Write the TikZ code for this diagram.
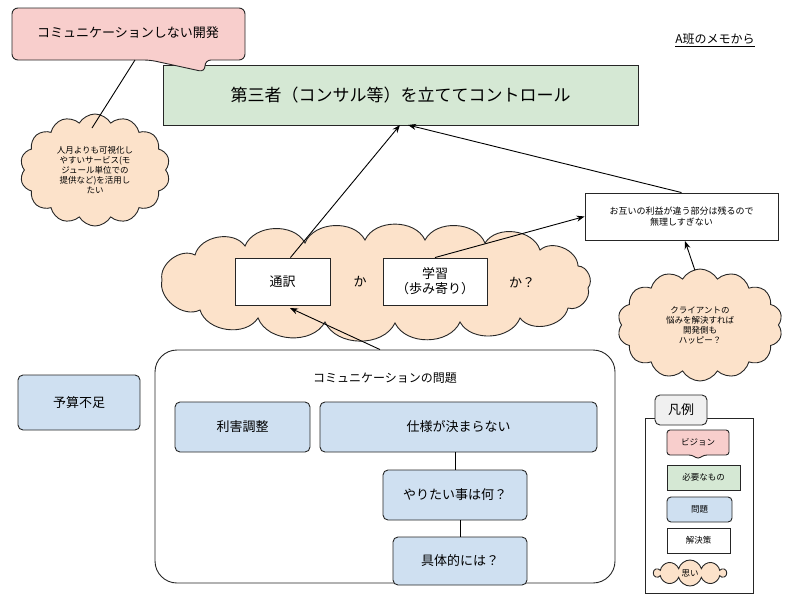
\documentclass[tikz,border=0pt]{standalone}
\usepackage{fontspec}
\setmainfont{Noto Sans CJK JP}
\usetikzlibrary{shapes.symbols,arrows.meta}
\definecolor{pk}{HTML}{F8CECC}
\definecolor{gr}{HTML}{D5E8D4}
\definecolor{bl}{HTML}{CFE0F1}
\definecolor{or}{HTML}{FCE2CA}
\definecolor{gy}{HTML}{F0F0F0}
\tikzset{
 base/.style={draw=black!85,line width=0.9pt,align=center,inner sep=1pt},
 prob/.style={base,fill=bl,rounded corners=5pt,font=\fontsize{13}{15}\selectfont},
 sol/.style={base,fill=white,font=\fontsize{13}{15}\selectfont},
 thought/.style={base,cloud,cloud puffs=14,cloud puff arc=120,aspect=1.4,fill=or,font=\fontsize{8.5}{10}\selectfont},
 arr/.style={-{Stealth[length=8pt,width=6pt]},line width=0.9pt},
 ln/.style={line width=0.9pt},
 puff/.style={bend left=65}
}
\begin{document}
\begin{tikzpicture}[x=1pt,y=-1pt]
\useasboundingbox (0,0) rectangle (800,600);
% green
\node[base,fill=gr,minimum width=475,minimum height=60,font=\fontsize{17}{20}\selectfont] (vis) at (400.5,95) {第三者（コンサル等）を立ててコントロール};
% callout
\draw[base,fill=pk,rounded corners=6pt] (12,8) -- (245,8) -- (245,60) -- (205,60) -- (205,72) -- (150,60) -- (12,60) -- cycle;
\node[font=\fontsize{13}{15}\selectfont] (cl) at (128,33) {コミュニケーションしない開発};
\coordinate (clb) at (135,60);
\node[font=\fontsize{12}{14}\selectfont] (memo) at (715,40) {\underline{A班のメモから}};
% left cloud
\node[thought,minimum width=150,minimum height=112] (c1) at (95,170) {人月よりも可視化し\\やすいサービス(モ\\ジュール単位での\\提供など)を活用し\\たい};
\draw[ln] (clb) -- (92,128);
% right white
\node[sol,minimum width=193,minimum height=47,font=\fontsize{9}{11}\selectfont] (w) at (681.5,216.5) {お互いの利益が違う部分は残るので\\無理しすぎない};
\node[thought,minimum width=165,minimum height=112] (c2) at (700,325) {クライアントの\\悩みを解決すれば\\開発側も\\ハッピー？};
\draw[arr] (c2.north) ++(-5,2) -- (685,241);
% big cloud
\draw[base,fill=or] (162,280) to[puff] (195,255) to[puff] (245,246) to[puff] (305,243) to[puff] (365,240) to[puff] (425,240) to[puff] (485,243) to[puff] (540,250) to[puff] (578,266) to[puff] (588,288) to[puff] (568,308) to[puff] (520,318) to[puff] (460,322) to[puff] (395,323) to[puff] (325,322) to[puff] (258,318) to[puff] (200,310) to[puff] cycle;
\coordinate (bc) at (375,280);
\node[sol,minimum width=95,minimum height=47] (tsu) at (282.5,281.5) {通訳};
\node[font=\fontsize{13}{15}\selectfont] (ka1) at (360,282) {か};
\node[sol,minimum width=104,minimum height=47] (gak) at (435,281.5) {学習\\（歩み寄り）};
\node[font=\fontsize{13}{15}\selectfont] (ka2) at (522,283) {か？};
\draw[arr] (tsu.north east) ++(-40,0) -- (400,125);
\draw[arr] (w.north) -- (408,125);
\draw[arr] (gak.north) -- (w.west);
% problem frame
\node[base,rounded corners=22pt,minimum width=460,minimum height=233] (pf) at (385,466.5) {};
\node[font=\fontsize{12}{14}\selectfont] (pt) at (385,378) {コミュニケーションの問題};
\draw[arr] (pf.north) ++(-5,0) -- (290,308);
\node[prob,minimum width=135,minimum height=50] (p1) at (242.5,427) {利害調整};
\node[prob,minimum width=277,minimum height=50] (p2) at (458.5,427) {仕様が決まらない};
\node[prob,minimum width=144,minimum height=50] (p3) at (455,495) {やりたい事は何？};
\node[prob,minimum width=134,minimum height=48] (p4) at (460,561) {具体的には？};
\draw[ln] (p2.south -| p3) -- (p3.north);
\draw[ln] (p3.south -| p4) -- (p4.north);
\node[prob,minimum width=122,minimum height=55] (p0) at (79,402.5) {予算不足};
% legend
\node[base,minimum width=108,minimum height=175] (lg) at (699,505.5) {};
\node[base,fill=gy,rounded corners=5pt,minimum width=52,minimum height=30,font=\fontsize{13}{15}\selectfont] (lt) at (681,410) {凡例};
\draw[base,fill=pk,rounded corners=3pt] (667,430) -- (729,430) -- (729,455) -- (704,455) -- (698,459) -- (692,455) -- (667,455) -- cycle;
\node[font=\fontsize{8.5}{10}\selectfont] (l1) at (698,442.5) {ビジョン};
\node[base,fill=gr,minimum width=73,minimum height=25,font=\fontsize{8.5}{10}\selectfont] (l2) at (703.5,477.5) {必要なもの};
\node[base,fill=bl,rounded corners=4pt,minimum width=65,minimum height=25,font=\fontsize{8.5}{10}\selectfont] (l3) at (699.5,509.5) {問題};
\node[base,fill=white,minimum width=63,minimum height=25,font=\fontsize{8.5}{10}\selectfont] (l4) at (698.5,540.5) {解決策};
\node[base,cloud,cloud puffs=10,aspect=3,fill=or,minimum width=72,minimum height=26,font=\fontsize{8.5}{10}\selectfont] (l5) at (690,573) {思い};
\end{tikzpicture}
\end{document}
